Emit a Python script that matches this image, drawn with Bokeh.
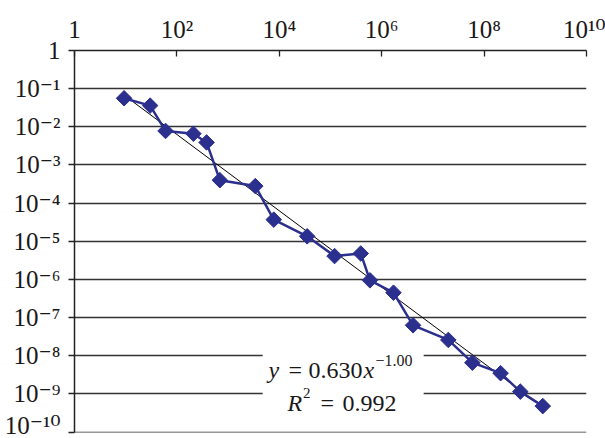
import math
from bokeh.plotting import figure
from bokeh.models import Range1d, FixedTicker, Label, BoxAnnotation, ColumnDataSource
from bokeh.embed import file_html
from bokeh.resources import INLINE

# ---- data ----
x_vals = [9.3, 30, 60, 210, 380, 690, 3400, 7800, 3.5e4, 1.2e5, 3.9e5, 5.9e5,
          1.7e6, 4.1e6, 2.0e7, 5.9e7, 2.1e8, 5.1e8, 1.4e9]
y_vals = [5.6e-2, 3.6e-2, 7.8e-3, 6.6e-3, 3.9e-3, 4.0e-4, 2.8e-4, 3.7e-5, 1.35e-5,
          4.1e-6, 4.8e-6, 9.5e-7, 4.5e-7, 6.3e-8, 2.6e-8, 6.6e-9, 3.5e-9, 1.15e-9, 4.8e-10]
fit_coef = 0.630
fit_exp = -1.00
r_squared = 0.992
x_tick_exps = [0, 2, 4, 6, 8, 10]
y_tick_exps = [0, -1, -2, -3, -4, -5, -6, -7, -8, -9, -10]

FONT = "Liberation Serif"
TICK_FONT = "'Liberation Serif', 'DejaVu Serif', serif"
TXT = "#1A1718"
BLUE = "#2B2F8E"
SUP = str.maketrans("0123456789-", "\u2070\u00b9\u00b2\u00b3\u2074\u2075\u2076\u2077\u2078\u2079\u207b")


def tick_text(e):
    return "1" if e == 0 else "10" + str(e).translate(SUP)


p = figure(width=605, height=438, x_axis_type="log", y_axis_type="log",
           x_axis_location="above",
           x_range=Range1d(1, 1e10), y_range=Range1d(10 ** -10.01, 1),
           output_backend="svg", toolbar_location=None,
           min_border_left=74, min_border_right=19, min_border_top=50, min_border_bottom=6)
p.outline_line_color = None
p.background_fill_color = "white"
p.border_fill_color = "white"

p.xgrid.visible = False
p.ygrid.ticker = FixedTicker(ticks=[10.0 ** e for e in y_tick_exps])
p.ygrid.grid_line_color = "#333333"
p.ygrid.grid_line_width = 1.3

for ax, exps in ((p.xaxis, x_tick_exps), (p.yaxis, y_tick_exps)):
    ticks = [10.0 ** e for e in exps]
    ax.ticker = FixedTicker(ticks=ticks, minor_ticks=[])
    ax.major_label_overrides = {t: tick_text(e) for t, e in zip(ticks, exps)}
    ax.major_label_text_font = TICK_FONT
    ax.major_label_text_font_size = "25px"
    ax.major_label_text_color = TXT
    ax.minor_tick_line_color = None
    ax.axis_line_color = "#222222"
    ax.axis_line_width = 1.5
    ax.major_tick_line_color = "#222222"
    ax.major_tick_line_width = 1.3
p.xaxis.major_tick_in = 6
p.xaxis.major_tick_out = 0
p.xaxis.major_label_standoff = 8
p.yaxis.major_tick_in = 0
p.yaxis.major_tick_out = 6
p.yaxis.major_label_standoff = 8

# trend line from fit
tx = [min(x_vals), max(x_vals)]
ty = [fit_coef * v ** fit_exp for v in tx]
p.line(tx, ty, line_color="black", line_width=1)

src = ColumnDataSource(dict(x=x_vals, y=y_vals))
p.line("x", "y", source=src, line_color=BLUE, line_width=2.5)
p.scatter("x", "y", source=src, marker="square", angle=math.pi / 4, size=11,
          fill_color=BLUE, line_color=BLUE)

BASE = 24
EXP = 15


def lab(x, y, text, dx, dy, size, align="left", style="normal"):
    p.add_layout(Label(x=x, y=y, text=text, x_offset=dx, y_offset=dy,
                       text_font=FONT, text_font_size=f"{size}px", text_color=TXT,
                       text_align=align, text_baseline="alphabetic", text_font_style=style))


# white box behind the equation
p.add_layout(BoxAnnotation(left=10 ** 3.676, right=10 ** 6.82, top=10 ** -7.80, bottom=10 ** -9.48,
                           fill_color="white", fill_alpha=1.0, line_alpha=0))

ax0, ay0 = 1e4, 1e-8
lab(ax0, ay0, "y", -10.9, -14.4, BASE, style="italic")
lab(ax0, ay0, "=", 9.1, -14.4, BASE)
lab(ax0, ay0, f"{fit_coef:.3f}", 29.1, -14.4, BASE)
lab(ax0, ay0, "x", 84.1, -14.4, BASE, style="italic")
lab(ax0, ay0, "\u2212" + f"{-fit_exp:.2f}", 96.1, -4.4, 16)
lab(ax0, ay0, "R", 8.1, -47.4, BASE, style="italic")
lab(ax0, ay0, "2", 23.6, -37.4, EXP)
lab(ax0, ay0, "=", 41.1, -47.4, BASE)
lab(ax0, ay0, f"{r_squared:.3f}", 63.1, -47.4, BASE)

open("out.html", "w").write(file_html(p, INLINE))
